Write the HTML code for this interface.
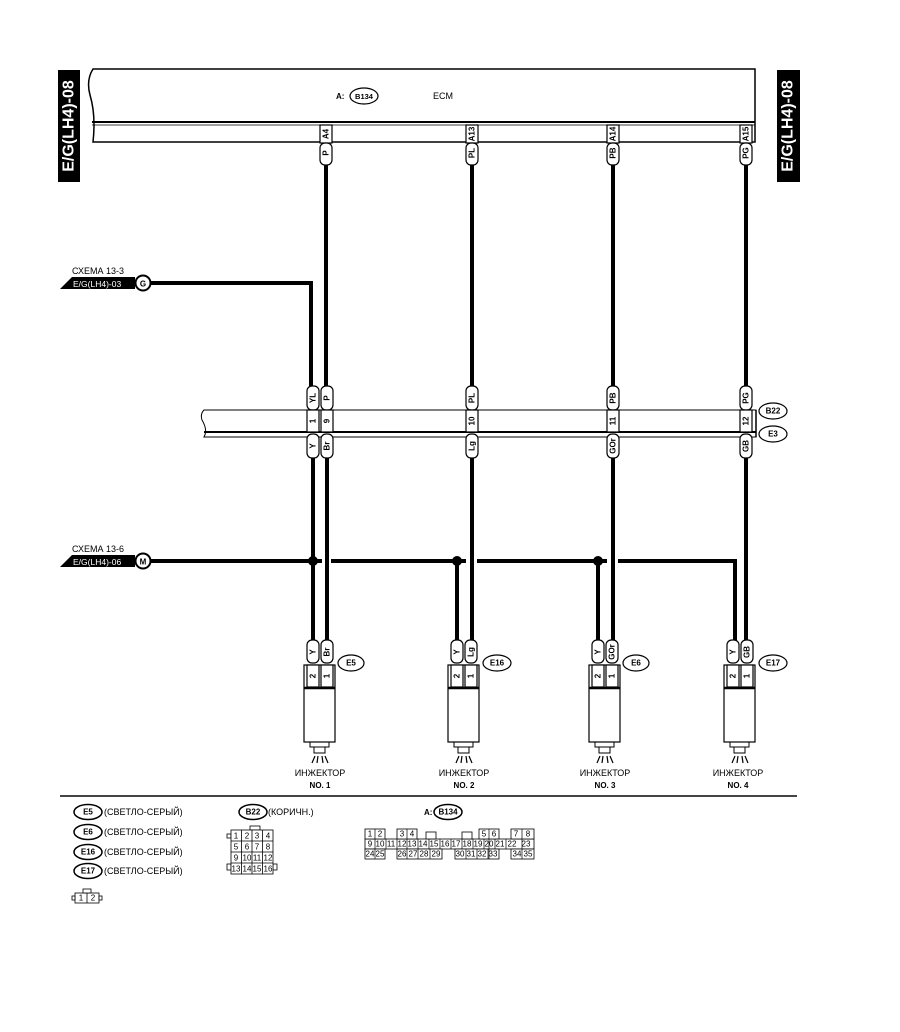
<!DOCTYPE html>
<html><head><meta charset="utf-8"><style>
html,body{margin:0;padding:0;background:#fff;}
svg{display:block;font-family:"Liberation Sans","Noto Sans CJK SC",sans-serif;}
.t{font-size:8px;font-weight:bold;text-anchor:middle;dominant-baseline:central;}
.tag{fill:#fff;stroke:#000;stroke-width:1.2;}
.w{stroke:#000;stroke-width:4;fill:none;}
.s{font-size:9px;}
.g{font-size:8px;text-anchor:middle;dominant-baseline:central;}
.c{fill:#fff;stroke:#000;stroke-width:0.8;}
</style></head><body>
<svg width="900" height="1032" viewBox="0 0 900 1032" xmlns="http://www.w3.org/2000/svg">
<!-- side labels -->
<rect x="58" y="70" width="22" height="112" fill="#000"/>
<text transform="translate(69,126) rotate(-90)" fill="#fff" font-size="16" font-weight="bold" text-anchor="middle" dominant-baseline="central">E/G(LH4)-08</text>
<rect x="777" y="70" width="23" height="112" fill="#000"/>
<text transform="translate(788,126) rotate(-90)" fill="#fff" font-size="16" font-weight="bold" text-anchor="middle" dominant-baseline="central">E/G(LH4)-08</text>

<!-- ECM -->
<path d="M755,69 L93,69 Q86,80 90,95 Q96,115 93,142 L755,142 Z" fill="#fff" stroke="#000" stroke-width="1.5"/>
<line x1="92" y1="122" x2="755" y2="122" stroke="#000" stroke-width="2"/>
<line x1="92" y1="125" x2="755" y2="125" stroke="#000" stroke-width="0.8"/>
<ellipse cx="364" cy="96" rx="14" ry="8" fill="#fff" stroke="#000" stroke-width="1.2"/>
<text x="336" y="99" font-size="8" font-weight="bold">A:</text>
<text x="364" y="99" font-size="7.5" text-anchor="middle" font-weight="bold">B134</text>
<text x="433" y="99" font-size="9">ECM</text>

<!-- top wires -->
<g class="w">
<line x1="326" y1="164" x2="326" y2="386"/>
<line x1="472" y1="164" x2="472" y2="386"/>
<line x1="613" y1="164" x2="613" y2="386"/>
<line x1="746" y1="164" x2="746" y2="386"/>
<polyline points="150,283 311,283 311,386"/>
</g>
<!-- ECM tags -->
<g>
<rect class="tag" x="320" y="125" width="12" height="18"/><text class="t" transform="translate(326,134) rotate(-90)">A4</text>
<rect class="tag" x="320" y="143" width="12" height="22" rx="5"/><text class="t" transform="translate(326,153) rotate(-90)">P</text>
<rect class="tag" x="466" y="125" width="12" height="18"/><text class="t" transform="translate(472,134) rotate(-90)">A13</text>
<rect class="tag" x="466" y="143" width="12" height="22" rx="5"/><text class="t" transform="translate(472,153) rotate(-90)">PL</text>
<rect class="tag" x="607" y="125" width="12" height="18"/><text class="t" transform="translate(613,134) rotate(-90)">A14</text>
<rect class="tag" x="607" y="143" width="12" height="22" rx="5"/><text class="t" transform="translate(613,153) rotate(-90)">PB</text>
<rect class="tag" x="740" y="125" width="12" height="18"/><text class="t" transform="translate(746,134) rotate(-90)">A15</text>
<rect class="tag" x="740" y="143" width="12" height="22" rx="5"/><text class="t" transform="translate(746,153) rotate(-90)">PG</text>
</g>

<!-- G input -->
<text x="72" y="274" font-size="9">СХЕМА 13-3</text>
<polygon points="60,289 72,277 135,277 135,289" fill="#000"/>
<text x="73" y="287" font-size="8.5" fill="#fff">E/G(LH4)-03</text>
<circle cx="143" cy="283" r="7.5" fill="#fff" stroke="#000" stroke-width="2"/>
<text x="143" y="284" class="g" font-weight="bold" font-size="10">G</text>

<!-- B22/E3 band -->
<path d="M204,410 L756,410 L756,437 L204,437 Q208,430 202,420 Q200,414 204,410 Z" fill="#fff" stroke="#000" stroke-width="1"/>
<line x1="204" y1="432" x2="756" y2="432" stroke="#000" stroke-width="2"/>
<line x1="756" y1="410" x2="756" y2="437" stroke="#000" stroke-width="1.5"/>
<ellipse cx="773" cy="411" rx="14" ry="8" fill="#fff" stroke="#000" stroke-width="1.2"/><text x="773" y="411" class="g" font-weight="bold">B22</text>
<ellipse cx="773" cy="434" rx="14" ry="8" fill="#fff" stroke="#000" stroke-width="1.2"/><text x="773" y="434" class="g" font-weight="bold">E3</text>

<g>
<rect class="tag" x="307" y="386" width="12" height="24" rx="5"/><text class="t" transform="translate(313,398) rotate(-90)">YL</text>
<rect class="tag" x="307" y="410" width="12" height="22"/><text class="t" transform="translate(313,421) rotate(-90)">1</text>
<rect class="tag" x="307" y="434" width="12" height="24" rx="5"/><text class="t" transform="translate(313,446) rotate(-90)">Y</text>
<rect class="tag" x="321" y="386" width="12" height="24" rx="5"/><text class="t" transform="translate(327,398) rotate(-90)">P</text>
<rect class="tag" x="321" y="410" width="12" height="22"/><text class="t" transform="translate(327,421) rotate(-90)">9</text>
<rect class="tag" x="321" y="434" width="12" height="24" rx="5"/><text class="t" transform="translate(327,446) rotate(-90)">Br</text>
<rect class="tag" x="466" y="386" width="12" height="24" rx="5"/><text class="t" transform="translate(472,398) rotate(-90)">PL</text>
<rect class="tag" x="466" y="410" width="12" height="22"/><text class="t" transform="translate(472,421) rotate(-90)">10</text>
<rect class="tag" x="466" y="434" width="12" height="24" rx="5"/><text class="t" transform="translate(472,446) rotate(-90)">Lg</text>
<rect class="tag" x="607" y="386" width="12" height="24" rx="5"/><text class="t" transform="translate(613,398) rotate(-90)">PB</text>
<rect class="tag" x="607" y="410" width="12" height="22"/><text class="t" transform="translate(613,421) rotate(-90)">11</text>
<rect class="tag" x="607" y="434" width="12" height="24" rx="5"/><text class="t" transform="translate(613,446) rotate(-90)">GOr</text>
<rect class="tag" x="740" y="386" width="12" height="24" rx="5"/><text class="t" transform="translate(746,398) rotate(-90)">PG</text>
<rect class="tag" x="740" y="410" width="12" height="22"/><text class="t" transform="translate(746,421) rotate(-90)">12</text>
<rect class="tag" x="740" y="434" width="12" height="24" rx="5"/><text class="t" transform="translate(746,446) rotate(-90)">GB</text>
</g>

<!-- M line -->
<text x="72" y="552" font-size="9">СХЕМА 13-6</text>
<polygon points="60,567 72,555 135,555 135,567" fill="#000"/>
<text x="73" y="565" font-size="8.5" fill="#fff">E/G(LH4)-06</text>
<circle cx="143" cy="561" r="7.5" fill="#fff" stroke="#000" stroke-width="2"/>
<text x="143" y="562" class="g" font-weight="bold" font-size="10">M</text>
<g class="w">
<line x1="150" y1="561" x2="322" y2="561"/>
<line x1="331" y1="561" x2="466" y2="561"/>
<line x1="477" y1="561" x2="607" y2="561"/>
<polyline points="618,561 735,561 735,641"/>
<line x1="313" y1="458" x2="313" y2="641"/>
<line x1="327" y1="458" x2="327" y2="641"/>
<line x1="457" y1="561" x2="457" y2="641"/>
<line x1="472" y1="458" x2="472" y2="641"/>
<line x1="598" y1="561" x2="598" y2="641"/>
<line x1="613" y1="458" x2="613" y2="641"/>
<line x1="746" y1="458" x2="746" y2="641"/>
</g>
<circle cx="313" cy="561" r="5"/><circle cx="457" cy="561" r="5"/><circle cx="598" cy="561" r="5"/>

<!-- injectors -->
<g id="inj1">
<rect x="304" y="665" width="31" height="77" fill="#fff" stroke="#000" stroke-width="1.2"/>
<line x1="304" y1="688" x2="335" y2="688" stroke="#000" stroke-width="2.5"/>
<rect class="tag" x="307" y="640" width="12" height="23" rx="5"/><text class="t" transform="translate(313,652) rotate(-90)">Y</text>
<rect class="tag" x="307" y="665" width="12" height="22"/><text class="t" transform="translate(313,676) rotate(-90)">2</text>
<rect class="tag" x="321" y="640" width="12" height="23" rx="5"/><text class="t" transform="translate(327,652) rotate(-90)">Br</text>
<rect class="tag" x="321" y="665" width="12" height="22"/><text class="t" transform="translate(327,676) rotate(-90)">1</text>
<polyline points="304,742 310,742 310,747 329,747 329,742 335,742" fill="none" stroke="#000"/>
<rect x="314" y="747" width="11" height="6" fill="#fff" stroke="#000"/>
<path d="M315,756 l-3,7 M318,756 l-1,7 M322,756 l1,7 M325,756 l3,7" stroke="#000" stroke-width="1.2"/>
<ellipse cx="351" cy="663" rx="13" ry="8" fill="#fff" stroke="#000" stroke-width="1.2"/><text x="351" y="663" class="g" font-weight="bold">E5</text>
<text x="320" y="776" font-size="9" text-anchor="middle">ИНЖЕКТОР</text>
<text x="320" y="788" font-size="8" font-weight="bold" text-anchor="middle">NO. 1</text>
</g>
<g transform="translate(144,0)">
<rect x="304" y="665" width="31" height="77" fill="#fff" stroke="#000" stroke-width="1.2"/>
<line x1="304" y1="688" x2="335" y2="688" stroke="#000" stroke-width="2.5"/>
<rect class="tag" x="307" y="640" width="12" height="23" rx="5"/><text class="t" transform="translate(313,652) rotate(-90)">Y</text>
<rect class="tag" x="307" y="665" width="12" height="22"/><text class="t" transform="translate(313,676) rotate(-90)">2</text>
<rect class="tag" x="321" y="640" width="12" height="23" rx="5"/><text class="t" transform="translate(327,652) rotate(-90)">Lg</text>
<rect class="tag" x="321" y="665" width="12" height="22"/><text class="t" transform="translate(327,676) rotate(-90)">1</text>
<polyline points="304,742 310,742 310,747 329,747 329,742 335,742" fill="none" stroke="#000"/>
<rect x="314" y="747" width="11" height="6" fill="#fff" stroke="#000"/>
<path d="M315,756 l-3,7 M318,756 l-1,7 M322,756 l1,7 M325,756 l3,7" stroke="#000" stroke-width="1.2"/>
<ellipse cx="353" cy="663" rx="14" ry="8" fill="#fff" stroke="#000" stroke-width="1.2"/><text x="353" y="663" class="g" font-weight="bold">E16</text>
<text x="320" y="776" font-size="9" text-anchor="middle">ИНЖЕКТОР</text>
<text x="320" y="788" font-size="8" font-weight="bold" text-anchor="middle">NO. 2</text>
</g>
<g transform="translate(285,0)">
<rect x="304" y="665" width="31" height="77" fill="#fff" stroke="#000" stroke-width="1.2"/>
<line x1="304" y1="688" x2="335" y2="688" stroke="#000" stroke-width="2.5"/>
<rect class="tag" x="307" y="640" width="12" height="23" rx="5"/><text class="t" transform="translate(313,652) rotate(-90)">Y</text>
<rect class="tag" x="307" y="665" width="12" height="22"/><text class="t" transform="translate(313,676) rotate(-90)">2</text>
<rect class="tag" x="321" y="640" width="12" height="23" rx="5"/><text class="t" transform="translate(327,652) rotate(-90)">GOr</text>
<rect class="tag" x="321" y="665" width="12" height="22"/><text class="t" transform="translate(327,676) rotate(-90)">1</text>
<polyline points="304,742 310,742 310,747 329,747 329,742 335,742" fill="none" stroke="#000"/>
<rect x="314" y="747" width="11" height="6" fill="#fff" stroke="#000"/>
<path d="M315,756 l-3,7 M318,756 l-1,7 M322,756 l1,7 M325,756 l3,7" stroke="#000" stroke-width="1.2"/>
<ellipse cx="351" cy="663" rx="13" ry="8" fill="#fff" stroke="#000" stroke-width="1.2"/><text x="351" y="663" class="g" font-weight="bold">E6</text>
<text x="320" y="776" font-size="9" text-anchor="middle">ИНЖЕКТОР</text>
<text x="320" y="788" font-size="8" font-weight="bold" text-anchor="middle">NO. 3</text>
</g>
<g transform="translate(420,0)">
<rect x="304" y="665" width="31" height="77" fill="#fff" stroke="#000" stroke-width="1.2"/>
<line x1="304" y1="688" x2="335" y2="688" stroke="#000" stroke-width="2.5"/>
<rect class="tag" x="307" y="640" width="12" height="23" rx="5"/><text class="t" transform="translate(313,652) rotate(-90)">Y</text>
<rect class="tag" x="307" y="665" width="12" height="22"/><text class="t" transform="translate(313,676) rotate(-90)">2</text>
<rect class="tag" x="321" y="640" width="12" height="23" rx="5"/><text class="t" transform="translate(327,652) rotate(-90)">GB</text>
<rect class="tag" x="321" y="665" width="12" height="22"/><text class="t" transform="translate(327,676) rotate(-90)">1</text>
<polyline points="304,742 310,742 310,747 329,747 329,742 335,742" fill="none" stroke="#000"/>
<rect x="314" y="747" width="11" height="6" fill="#fff" stroke="#000"/>
<path d="M315,756 l-3,7 M318,756 l-1,7 M322,756 l1,7 M325,756 l3,7" stroke="#000" stroke-width="1.2"/>
<ellipse cx="353" cy="663" rx="14" ry="8" fill="#fff" stroke="#000" stroke-width="1.2"/><text x="353" y="663" class="g" font-weight="bold">E17</text>
<text x="318" y="776" font-size="9" text-anchor="middle">ИНЖЕКТОР</text>
<text x="318" y="788" font-size="8" font-weight="bold" text-anchor="middle">NO. 4</text>
</g>

<line x1="60" y1="796" x2="797" y2="796" stroke="#444" stroke-width="2"/>

<!-- legend -->
<g font-size="9">
<ellipse cx="88" cy="812" rx="14" ry="7.5" fill="#fff" stroke="#000" stroke-width="1.5"/><text x="88" y="812" class="g" font-weight="bold">E5</text><text x="104" y="815">(СВЕТЛО-СЕРЫЙ)</text>
<ellipse cx="88" cy="832" rx="14" ry="7.5" fill="#fff" stroke="#000" stroke-width="1.5"/><text x="88" y="832" class="g" font-weight="bold">E6</text><text x="104" y="835">(СВЕТЛО-СЕРЫЙ)</text>
<ellipse cx="88" cy="852" rx="14" ry="7.5" fill="#fff" stroke="#000" stroke-width="1.5"/><text x="88" y="852" class="g" font-weight="bold">E16</text><text x="104" y="855">(СВЕТЛО-СЕРЫЙ)</text>
<ellipse cx="88" cy="871" rx="14" ry="7.5" fill="#fff" stroke="#000" stroke-width="1.5"/><text x="88" y="871" class="g" font-weight="bold">E17</text><text x="104" y="874">(СВЕТЛО-СЕРЫЙ)</text>
<ellipse cx="253" cy="812" rx="14" ry="7.5" fill="#fff" stroke="#000" stroke-width="1.5"/><text x="253" y="812" class="g" font-weight="bold">B22</text><text x="268" y="815">(КОРИЧН.)</text>
<text x="424" y="815" font-size="8" font-weight="bold">A:</text>
<ellipse cx="448" cy="812" rx="14" ry="7.5" fill="#fff" stroke="#000" stroke-width="1.5"/><text x="448" y="812" class="g" font-weight="bold">B134</text>
</g>
<!-- small 1-2 connector -->
<g>
<rect x="75" y="893" width="24" height="10" class="c"/><line x1="87" y1="893" x2="87" y2="903" stroke="#000" stroke-width="0.8"/>
<rect x="83" y="889" width="8" height="4" class="c"/>
<rect x="72" y="896" width="3" height="4" class="c"/><rect x="99" y="896" width="3" height="4" class="c"/>
<text x="81" y="898" class="g" font-size="7">1</text><text x="93" y="898" class="g" font-size="7">2</text>
</g>
<!-- B22 grid -->
<g font-size="7">
<rect x="250" y="826" width="10" height="4" class="c"/>
<rect x="227" y="834" width="4" height="4" class="c"/>
<rect x="227" y="864" width="4" height="6" class="c"/><rect x="273" y="864" width="4" height="6" class="c"/>
<rect x="231" y="830" width="42" height="44" class="c"/>
<path d="M241.5,830V874M252,830V874M262.5,830V874M231,841H273M231,852H273M231,863H273" stroke="#000" stroke-width="0.8"/>
<text x="236" y="836" class="g">1</text><text x="247" y="836" class="g">2</text><text x="257" y="836" class="g">3</text><text x="268" y="836" class="g">4</text>
<text x="236" y="847" class="g">5</text><text x="247" y="847" class="g">6</text><text x="257" y="847" class="g">7</text><text x="268" y="847" class="g">8</text>
<text x="236" y="858" class="g">9</text><text x="247" y="858" class="g">10</text><text x="257" y="858" class="g">11</text><text x="268" y="858" class="g">12</text>
<text x="236" y="869" class="g">13</text><text x="247" y="869" class="g">14</text><text x="257" y="869" class="g">15</text><text x="268" y="869" class="g">16</text>
</g>
<!-- B134 grid -->
<g font-size="6.5">
<rect x="365" y="839" width="169" height="10" class="c"/>
<rect x="365" y="829" width="20" height="10" class="c"/>
<rect x="397" y="829" width="20" height="10" class="c"/>
<rect x="479" y="829" width="20" height="10" class="c"/>
<rect x="511" y="829" width="23" height="10" class="c"/>
<rect x="365" y="849" width="20" height="10" class="c"/>
<rect x="397" y="849" width="45" height="10" class="c"/>
<rect x="455" y="849" width="44" height="10" class="c"/>
<rect x="511" y="849" width="23" height="10" class="c"/>
<rect x="426" y="832" width="10" height="7" class="c"/><rect x="462" y="832" width="10" height="7" class="c"/>
<text x="370" y="834" class="g">1</text><text x="380" y="834" class="g">2</text><text x="402" y="834" class="g">3</text><text x="412" y="834" class="g">4</text>
<text x="484" y="834" class="g">5</text><text x="494" y="834" class="g">6</text><text x="516" y="834" class="g">7</text><text x="528" y="834" class="g">8</text>
<text x="370" y="844" class="g">9</text><text x="380" y="844" class="g">10</text><text x="391" y="844" class="g">11</text><text x="402" y="844" class="g">12</text><text x="412" y="844" class="g">13</text><text x="423" y="844" class="g">14</text><text x="434" y="844" class="g">15</text><text x="445" y="844" class="g">16</text><text x="456" y="844" class="g">17</text><text x="467" y="844" class="g">18</text><text x="478" y="844" class="g">19</text><text x="489" y="844" class="g">20</text><text x="500" y="844" class="g">21</text><text x="512" y="844" class="g">22</text><text x="526" y="844" class="g">23</text>
<text x="370" y="854" class="g">24</text><text x="380" y="854" class="g">25</text><text x="402" y="854" class="g">26</text><text x="413" y="854" class="g">27</text><text x="424" y="854" class="g">28</text><text x="436" y="854" class="g">29</text>
<text x="460" y="854" class="g">30</text><text x="471" y="854" class="g">31</text><text x="482" y="854" class="g">32</text><text x="493" y="854" class="g">33</text><text x="517" y="854" class="g">34</text><text x="528" y="854" class="g">35</text>
<path d="M375,829V859M407,829V859M489,829V859M522,829V859M386,839V849M397,839V849M418,839V849M429,839V849M440,839V849M451,839V849M462,839V849M473,839V849M484,839V849M495,839V849M506,839V849M418,849V859M430,849V859M466,849V859M477,849V859M488,849V859" stroke="#000" stroke-width="0.7"/>
</g>
</svg>
</body></html>
